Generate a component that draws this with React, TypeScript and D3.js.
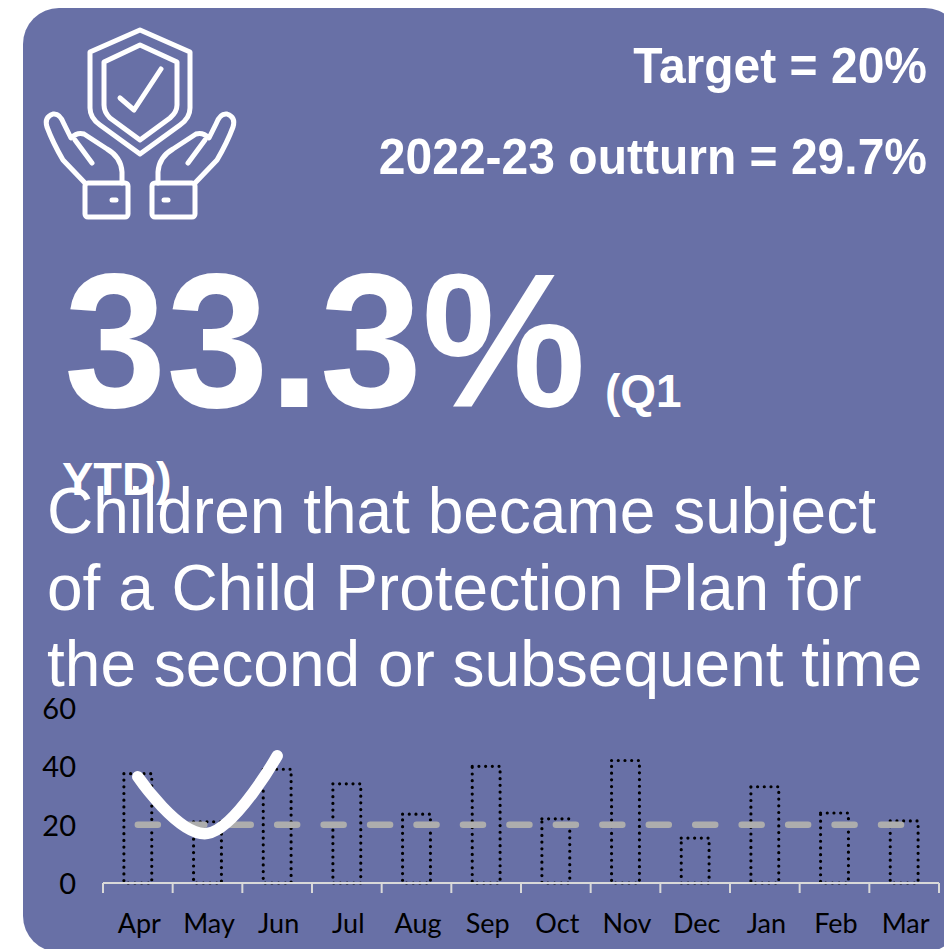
import React from "react";
import * as d3 from "d3";

const months = ["Apr", "May", "Jun", "Jul", "Aug", "Sep", "Oct", "Nov", "Dec", "Jan", "Feb", "Mar"];
const monthlyBars = [37.5, 21, 39, 34, 23.6, 40, 22, 42, 15.4, 33, 24, 21.3];
const cumulativeMonths = ["Apr", "May", "Jun"];
const cumulativeLine = [36.4, 17, 43.6];
const targetLine = months.map(() => 20);
const yTicks = [0, 20, 40, 60];

const PANEL = "#6870a6";
const SANS = "'Liberation Sans', Arial, sans-serif";
const AXIS_FONT = "Lato, 'Open Sans', sans-serif";

function PanelText(props: {
  x: number; y: number; size: number; sy?: number;
  anchor?: "start" | "end"; bold?: boolean; children: string;
}) {
  const { x, y, size, sy = 1, anchor = "start", bold, children } = props;
  return (
    <text
      transform={`translate(${x},${y}) scale(1,${sy})`}
      fontFamily={SANS}
      fontSize={size}
      fontWeight={bold ? 700 : 400}
      fill="#fff"
      textAnchor={anchor}
    >
      {children}
    </text>
  );
}

// Outline icon: a ticked shield held between two open hands
function ShieldIcon() {
  const hand = (
    <g>
      <path d="M85 183 L63 160 Q53 143 47 127 Q44 117 53 114 Q60 113 64 124 L71 138 Q77 132 84 134 L107 149 Q121 157 122 172 V183" />
      <path d="M75 140 L92 163" />
      <rect x={85} y={183} width={43} height={34} rx={3} />
      <path d="M112 200 H116" strokeWidth={5} />
    </g>
  );
  return (
    <g fill="none" stroke="#fff" strokeWidth={5} strokeLinecap="round" strokeLinejoin="round">
      <path d="M140 30 L190 52 V108 Q190 118 180 125 L140 154 L100 125 Q90 118 90 108 V52 Z" />
      <path d="M140 45 L177 62 V105 Q177 112 170 118 L140 140 L110 118 Q104 112 104 105 V62 Z" />
      <path d="M120 98 L134 110 L161 69" />
      {hand}
      <g transform="translate(280,0) scale(-1,1)">{hand}</g>
    </g>
  );
}

export default function App() {
  const x = d3.scaleBand<string>().domain(months).range([103, 939]);
  const y = d3.scaleLinear().domain([0, 60]).range([883, 708]);
  const cx = (m: string) => (x(m) as number) + x.bandwidth() / 2;
  const barW = x.bandwidth() * 0.4;

  const smooth = d3
    .line<number>()
    .x((_, i) => cx(cumulativeMonths[i]))
    .y((v) => y(v))
    .curve(d3.curveCardinal.tension(-0.2));
  const straight = d3
    .line<number>()
    .x((_, i) => cx(months[i]))
    .y((v) => y(v));

  return (
    <svg
      width={944}
      height={949}
      style={{ position: "absolute", left: 0, top: 0, display: "block", background: "#fff" }}
    >
      <rect x={23} y={8} width={938} height={944} rx={36} fill={PANEL} />
      <ShieldIcon />

      <PanelText x={927} y={83} size={48} sy={1.03} anchor="end" bold>Target = 20%</PanelText>
      <PanelText x={927} y={174} size={48} sy={1.03} anchor="end" bold>2022-23 outturn = 29.7%</PanelText>

      <PanelText x={64} y={407} size={184} sy={1.04} bold>33.3%</PanelText>
      <PanelText x={605} y={407} size={46} bold>(Q1</PanelText>
      <PanelText x={62} y={495} size={47} bold>YTD)</PanelText>

      <PanelText x={47} y={533} size={64}>Children that became subject</PanelText>
      <PanelText x={47} y={610} size={64}>of a Child Protection Plan for</PanelText>
      <PanelText x={47} y={686} size={64}>the second or subsequent time</PanelText>

      {months.map((m, i) => (
        <rect
          key={m}
          x={cx(m) - barW / 2}
          y={y(monthlyBars[i])}
          width={barW}
          height={y(0) - y(monthlyBars[i])}
          fill="none"
          stroke="#000"
          strokeWidth={3.2}
          strokeLinecap="round"
          strokeDasharray="0 6.7"
        />
      ))}

      <path
        d={straight(targetLine) ?? ""}
        fill="none"
        stroke="#adadad"
        strokeWidth={6.5}
        strokeLinecap="round"
        strokeDasharray="20 26.45"
      />
      <path
        d={smooth(cumulativeLine) ?? ""}
        fill="none"
        stroke="#fff"
        strokeWidth={11.5}
        strokeLinecap="round"
      />

      {/* category axis */}
      <path d={`M103 ${y(0)} H939`} stroke="#d9d9d9" strokeWidth={2} fill="none" />
      {[...months.map((m) => x(m) as number), 939].map((t) => (
        <line key={t} x1={t} x2={t} y1={y(0)} y2={y(0) + 10} stroke="#d9d9d9" strokeWidth={2} />
      ))}
      {months.map((m) => (
        <text key={m} x={cx(m) + 1.5} y={933} fontFamily={AXIS_FONT} fontSize={27} textAnchor="middle" fill="#000">
          {m}
        </text>
      ))}
      {yTicks.map((t) => (
        <text key={t} x={76} y={y(t) + 11} fontFamily={AXIS_FONT} fontSize={29} textAnchor="end" fill="#000">
          {t}
        </text>
      ))}
    </svg>
  );
}
